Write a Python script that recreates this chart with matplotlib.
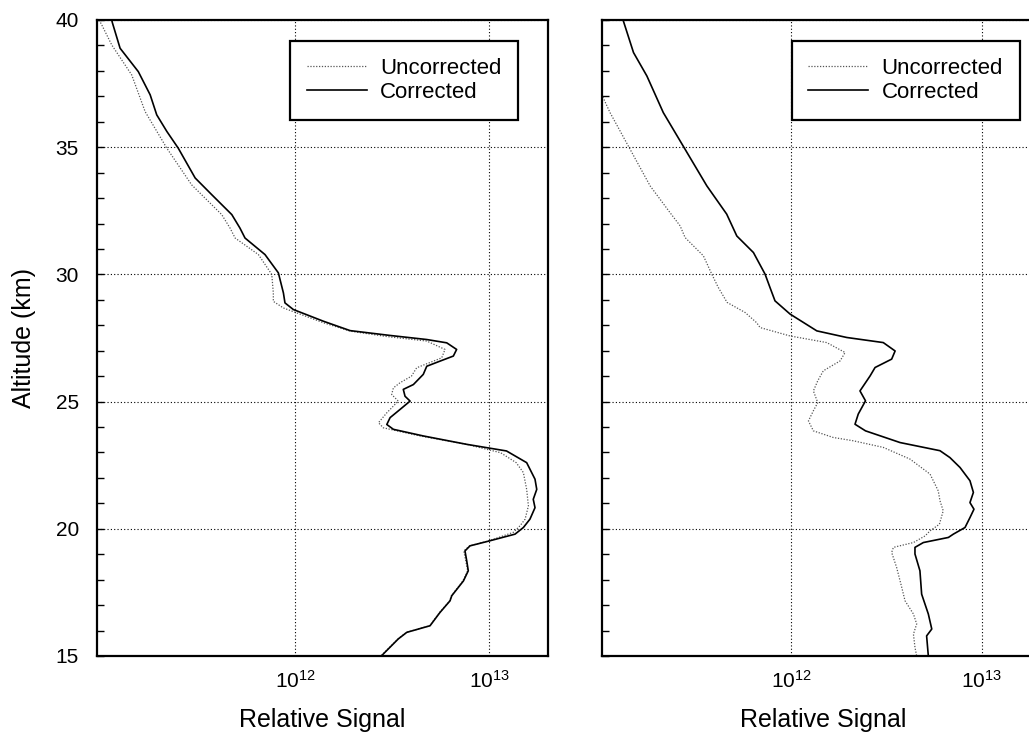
import numpy as np
import matplotlib
matplotlib.use('Agg')
import matplotlib.pyplot as plt
from matplotlib.ticker import MultipleLocator, NullLocator

plt.rcParams['font.family'] = ['Liberation Sans', 'DejaVu Sans']
plt.rcParams['mathtext.default'] = 'regular'

# ---- data: altitude (km) and log10 of relative signal ----
left_alt_corr = [40.0, 39.9, 38.89, 37.97, 37.06, 36.27, 35.62, 34.96, 33.79, 33.13,
                 32.35, 31.82, 31.43, 30.78, 30.06, 29.27, 28.88, 28.62, 28.16, 27.79,
                 27.60, 27.44, 27.31, 27.05, 26.79, 26.59, 26.39, 26.07, 25.67, 25.48,
                 25.21, 25.02, 24.69, 24.37, 24.10, 23.91, 23.65, 23.32, 23.06, 22.6,
                 21.95, 21.55, 21.16, 20.83, 20.38, 20.05, 19.79, 19.53, 19.33, 19.13,
                 18.74, 18.35, 17.95, 17.37, 17.17, 16.71, 16.19, 15.93, 15.67, 15.08, 15.0]
left_sig_corr = [11.055, 11.058, 11.098, 11.192, 11.253, 11.287, 11.339, 11.398, 11.485, 11.571,
                 11.674, 11.716, 11.742, 11.845, 11.914, 11.94, 11.948, 11.991, 12.146, 12.284,
                 12.49, 12.679, 12.782, 12.833, 12.816, 12.747, 12.679, 12.661, 12.61, 12.558,
                 12.567, 12.593, 12.541, 12.49, 12.473, 12.507, 12.661, 12.885, 13.09, 13.194,
                 13.237, 13.246, 13.228, 13.237, 13.211, 13.177, 13.134, 13.005, 12.902, 12.876,
                 12.885, 12.893, 12.868, 12.808, 12.799, 12.747, 12.696, 12.576, 12.532, 12.455, 12.445]

left_alt_unc = [40.0, 39.8, 39.02, 37.84, 36.40, 34.96, 33.52, 32.35, 31.82, 31.43,
                30.78, 30.0, 29.27, 28.94, 28.68, 28.10, 27.77, 27.55, 27.38, 27.05,
                26.72, 26.33, 26.0, 25.74, 25.54, 25.28, 25.02, 24.56, 24.17, 23.97,
                23.65, 23.32, 22.99, 22.6, 22.21, 21.55, 20.90, 20.38, 20.12, 19.86,
                19.53, 19.33, 19.13, 18.74, 18.35, 17.95, 17.37, 17.17, 16.71, 16.19,
                15.93, 15.67, 15.08, 15.0]
left_sig_unc = [10.99, 11.004, 11.055, 11.158, 11.227, 11.339, 11.467, 11.622, 11.665, 11.691,
                11.811, 11.88, 11.888, 11.888, 11.94, 12.146, 12.284, 12.48, 12.679, 12.773,
                12.756, 12.627, 12.60, 12.541, 12.507, 12.498, 12.532, 12.473, 12.43, 12.455,
                12.644, 12.885, 13.06, 13.14, 13.177, 13.194, 13.203, 13.186, 13.16, 13.125,
                13.0, 12.9, 12.87, 12.88, 12.89, 12.865, 12.806, 12.797, 12.745, 12.694,
                12.575, 12.53, 12.453, 12.443]

right_alt_corr = [40.0, 39.96, 38.72, 37.80, 36.36, 34.92, 33.48, 32.37, 31.51, 30.86,
                  30.01, 29.48, 28.96, 28.44, 27.78, 27.52, 27.32, 26.99, 26.67, 26.34,
                  26.01, 25.62, 25.42, 25.03, 24.51, 24.11, 23.85, 23.39, 23.07, 22.80,
                  22.41, 21.89, 21.43, 21.03, 20.77, 20.44, 20.05, 19.79, 19.66, 19.46,
                  19.27, 19.01, 18.35, 17.43, 16.65, 16.06, 15.79, 15.0]
right_sig_corr = [11.12, 11.122, 11.175, 11.245, 11.331, 11.445, 11.559, 11.663, 11.716, 11.803,
                  11.864, 11.89, 11.916, 11.995, 12.135, 12.292, 12.483, 12.545, 12.527, 12.44,
                  12.414, 12.379, 12.361, 12.39, 12.352, 12.335, 12.39, 12.571, 12.78, 12.832,
                  12.885, 12.937, 12.955, 12.937, 12.958, 12.937, 12.911, 12.85, 12.824, 12.693,
                  12.649, 12.649, 12.675, 12.684, 12.719, 12.737, 12.71, 12.719]

right_alt_unc = [38.0, 37.21, 36.36, 34.92, 33.48, 32.43, 31.91, 31.45, 30.73, 30.01,
                 29.5, 28.9, 28.5, 28.1, 27.91, 27.58, 27.32, 26.93, 26.60, 26.21,
                 25.82, 25.42, 24.96, 24.64, 24.24, 23.85, 23.59, 23.46, 23.20, 22.74,
                 22.15, 21.49, 21.10, 20.71, 20.18, 19.92, 19.72, 19.46, 19.27, 19.07,
                 18.48, 17.69, 17.17, 16.65, 16.26, 15.86, 15.34, 15.0]
right_sig_unc = [10.95, 11.0, 11.052, 11.157, 11.262, 11.366, 11.419, 11.445, 11.541, 11.585,
                 11.618, 11.665, 11.76, 11.82, 11.838, 11.995, 12.187, 12.283, 12.257, 12.169,
                 12.14, 12.117, 12.14, 12.117, 12.091, 12.117, 12.221, 12.326, 12.483, 12.623,
                 12.728, 12.771, 12.78, 12.797, 12.777, 12.728, 12.702, 12.641, 12.536, 12.527,
                 12.553, 12.58, 12.597, 12.641, 12.658, 12.641, 12.649, 12.658]

labels = ['Uncorrected', 'Corrected']
x_ticks = [1e12, 1e13]
x_tick_labels = ['$10^{12}$', '$10^{13}$']

# ---- figure ----
W, H = 1029, 749
fig = plt.figure(figsize=(W / 100, H / 100), dpi=100)

ax_left = fig.add_axes([97 / W, 1 - 656 / H, 451 / W, 636 / H])
ax_right = fig.add_axes([602 / W, 1 - 656 / H, 443 / W, 636 / H])

panels = [
    (ax_left, left_alt_unc, left_sig_unc, left_alt_corr, left_sig_corr, (10 ** 10.979, 10 ** 13.304)),
    (ax_right, right_alt_unc, right_sig_unc, right_alt_corr, right_sig_corr, (10 ** 11.01, 10 ** 13.33)),
]

for i, (ax, a_u, s_u, a_c, s_c, xl) in enumerate(panels):
    ax.plot(10.0 ** np.array(s_u), a_u, color='#555555', lw=0.9, ls=(0, (1, 1.3)), label=labels[0])
    ax.plot(10.0 ** np.array(s_c), a_c, color='black', lw=1.2, ls='-', label=labels[1])

    ax.set_xscale('log')
    ax.set_xlim(*xl)
    ax.set_ylim(15, 40)
    ax.set_xticks(x_ticks)
    ax.set_xticklabels(x_tick_labels)
    ax.xaxis.set_minor_locator(NullLocator())
    ax.yaxis.set_major_locator(MultipleLocator(5))
    ax.yaxis.set_minor_locator(MultipleLocator(1))

    ax.tick_params(axis='x', which='both', length=0, pad=10, labelsize=15)
    ax.tick_params(axis='y', which='both', direction='in', length=5, width=1,
                   left=True, right=False, labelsize=15, pad=13)
    if i == 1:
        ax.tick_params(axis='y', labelleft=False)

    ax.grid(True, which='major', ls=(0, (1, 2)), color='black', lw=0.8)
    for sp in ax.spines.values():
        sp.set_linewidth(1.6)
        sp.set_color('black')

    ax.set_xlabel('Relative Signal', fontsize=18, labelpad=12)

    leg = ax.legend(loc='upper left', bbox_to_anchor=(0.428, 0.967), borderaxespad=0,
                    fontsize=16, frameon=True, fancybox=False, edgecolor='black',
                    framealpha=1, handlelength=2.7, handletextpad=0.6,
                    labelspacing=0.15, borderpad=0.75)
    leg.get_frame().set_linewidth(1.6)

fig.text(24 / W, 1 - 338 / H, 'Altitude (km)', rotation=90, ha='center', va='center', fontsize=18)

plt.savefig('out.png', dpi=100)
